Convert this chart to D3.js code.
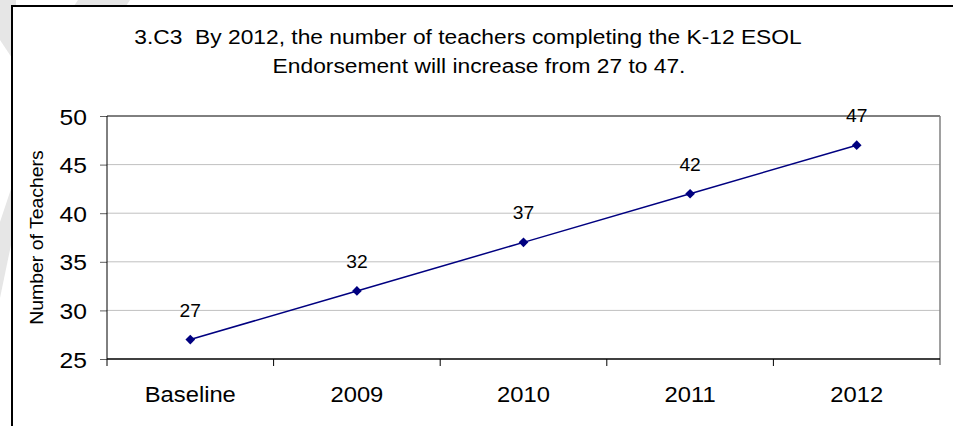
<!DOCTYPE html>
<html>
<head>
<meta charset="utf-8">
<script src="https://cdn.jsdelivr.net/npm/d3@7"></script>
<style>
  body { margin: 0; background: #fff; }
  svg { display: block; font-family: "Liberation Sans", Arial, sans-serif; }
  text { white-space: pre; }
</style>
</head>
<body>
<div id="scene"></div>
<script>
const categories = ["Baseline", "2009", "2010", "2011", "2012"];
const teachers = [27, 32, 37, 42, 47];
const yTicks = [25, 30, 35, 40, 45, 50];
const titleLines = [
  "3.C3  By 2012, the number of teachers completing the K-12 ESOL",
  "Endorsement will increase from 27 to 47."
];
const yTitle = "Number of Teachers";

const W = 953, H = 426;
const svg = d3.select("#scene").append("svg")
  .attr("width", W)
  .attr("height", H);

// the source picture is a bit wider than tall, so text is stretched sideways
function stretch(sel, sx) {
  sel.each(function() {
    const t = d3.select(this);
    const tx = +t.attr("x") || 0, ty = +t.attr("y") || 0;
    t.attr("x", 0).attr("y", 0)
      .attr("transform", `translate(${tx},${ty}) scale(${sx},1)`);
  });
}

// faint watermark streaks outside the chart box
const streaks = [
  [[0, 0], [16, 0], [16, 64], [0, 40]],
  [[78, 0], [130, 0], [122, 12], [70, 12]],
  [[12, 186], [12, 240], [0, 298], [0, 222]]
];
svg.selectAll("polygon.streak")
  .data(streaks)
  .enter().append("polygon")
  .attr("class", "streak")
  .attr("points", d => d.map(p => p.join(",")).join(" "))
  .style("fill", "#e6e6e6");

// chart area (right and bottom edges run off the picture)
svg.append("rect")
  .attr("x", 12).attr("y", 6)
  .attr("width", 960).attr("height", 440)
  .style("fill", "#fff")
  .style("stroke", "#000")
  .style("stroke-width", 2);

const plot = { left: 107, right: 940, top: 116, bottom: 359 };

const x = d3.scaleBand()
  .domain(categories)
  .range([plot.left, plot.right])
  .padding(0);

const y = d3.scaleLinear()
  .domain([25, 50])
  .range([plot.bottom, plot.top]);

// title
const titleX = [468, 479];
svg.append("g").selectAll("text")
  .data(titleLines)
  .enter().append("text")
  .attr("x", (d, i) => titleX[i])
  .attr("y", (d, i) => 44 + i * 29)
  .style("text-anchor", "middle")
  .style("font-size", "21px")
  .style("fill", "#000")
  .text(d => d)
  .call(stretch, 1.085);

// gridlines
svg.append("g").selectAll("line")
  .data(yTicks.filter(t => t > 25 && t < 50))
  .enter().append("line")
  .attr("x1", plot.left).attr("x2", plot.right)
  .attr("y1", d => y(d)).attr("y2", d => y(d))
  .style("stroke", "#c0c0c0")
  .style("stroke-width", 1);

// plot area top and right edges
svg.append("line")
  .attr("x1", plot.left).attr("x2", plot.right)
  .attr("y1", y(50)).attr("y2", y(50))
  .style("stroke", "#000");
svg.append("line")
  .attr("x1", plot.right).attr("x2", plot.right)
  .attr("y1", plot.top).attr("y2", plot.bottom + 6)
  .style("stroke", "#808080")
  .style("stroke-width", 1.5);

// y axis
const yAxis = svg.append("g")
  .attr("transform", `translate(${plot.left},0)`)
  .call(d3.axisLeft(y).tickValues(yTicks).tickSize(7).tickPadding(13));
yAxis.select(".domain").remove();
yAxis.selectAll(".tick line").style("stroke", "#606060");
yAxis.selectAll("text")
  .attr("dy", null)
  .attr("y", 8)
  .style("font-size", "22px")
  .style("font-family", "Liberation Sans, Arial, sans-serif")
  .style("fill", "#000")
  .call(stretch, 1.12);
svg.append("line")
  .attr("x1", plot.left).attr("x2", plot.left)
  .attr("y1", plot.top).attr("y2", plot.bottom + 7)
  .style("stroke", "#000");

// x axis: line, boundary ticks, category labels
svg.append("line")
  .attr("x1", plot.left).attr("x2", plot.right)
  .attr("y1", plot.bottom).attr("y2", plot.bottom)
  .style("stroke", "#000")
  .style("stroke-width", 1.5);
const bounds = categories.map(c => x(c)).concat([x.range()[1]]);
svg.append("g").selectAll("line")
  .data(bounds.slice(1, -1))
  .enter().append("line")
  .attr("x1", d => d).attr("x2", d => d)
  .attr("y1", plot.bottom).attr("y2", plot.bottom + 7)
  .style("stroke", "#000");
svg.append("g").selectAll("text")
  .data(categories)
  .enter().append("text")
  .attr("x", d => x(d) + x.bandwidth() / 2)
  .attr("y", 402)
  .style("text-anchor", "middle")
  .style("font-size", "22px")
  .text(d => d)
  .call(stretch, 1.08);

// y title
svg.append("text")
  .attr("transform", `translate(43, ${(plot.top + plot.bottom) / 2}) rotate(-90) scale(1.08,1)`)
  .style("text-anchor", "middle")
  .style("font-size", "18px")
  .text(yTitle);

// series
const points = categories.map((c, i) => ({ cat: c, value: teachers[i] }));
const valueline = d3.line()
  .x(d => x(d.cat) + x.bandwidth() / 2)
  .y(d => y(d.value));

svg.append("path")
  .datum(points)
  .attr("d", valueline)
  .style("fill", "none")
  .style("stroke", "#000080")
  .style("stroke-width", 1.5);

svg.append("g").selectAll("path")
  .data(points)
  .enter().append("path")
  .attr("d", d3.symbol().type(d3.symbolDiamond2).size(60))
  .attr("transform", d => `translate(${x(d.cat) + x.bandwidth() / 2},${y(d.value)})`)
  .style("fill", "#000080");

svg.append("g").selectAll("text")
  .data(points)
  .enter().append("text")
  .attr("x", d => x(d.cat) + x.bandwidth() / 2)
  .attr("y", d => y(d.value) - 23)
  .style("text-anchor", "middle")
  .style("font-size", "17.5px")
  .text(d => d.value)
  .call(stretch, 1.1);
</script>
</body>
</html>
